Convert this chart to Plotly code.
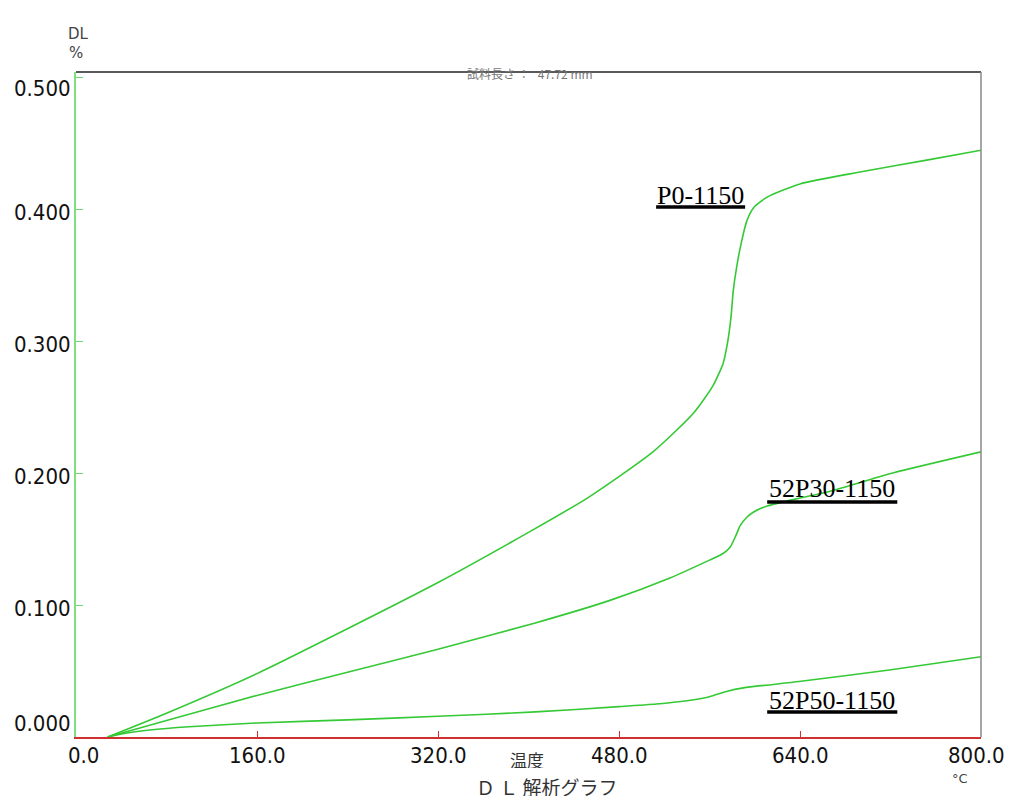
import plotly.graph_objects as go

# ---- data ----
p0_temp = [28, 80, 160, 240, 320, 400, 452, 510, 546, 563, 572, 576, 579, 581, 584, 588, 593, 599, 611, 640, 693, 752, 800]
p0_dl = [0.0, 0.018, 0.048, 0.082, 0.117, 0.155, 0.181, 0.216, 0.2455, 0.266, 0.283, 0.299, 0.318, 0.338, 0.356, 0.374, 0.391, 0.401, 0.409, 0.419, 0.428, 0.437, 0.4445]

p30_temp = [28, 80, 160, 240, 320, 406, 472, 525, 560, 572, 578, 583, 587, 593, 599, 611, 640, 664, 722, 800]
p30_dl = [0.0, 0.0125, 0.0315, 0.049, 0.0665, 0.0864, 0.1035, 0.1205, 0.134, 0.139, 0.1435, 0.152, 0.160, 0.1665, 0.1705, 0.175, 0.181, 0.1856, 0.200, 0.216]

p50_temp = [28, 45, 65, 100, 160, 240, 320, 406, 480, 513, 540, 560, 575, 590, 639, 719, 800]
p50_dl = [0.0, 0.003, 0.0053, 0.0078, 0.0106, 0.013, 0.0157, 0.019, 0.023, 0.025, 0.0275, 0.0305, 0.0345, 0.0372, 0.042, 0.0508, 0.0608]

series_names = ["P0-1150", "52P30-1150", "52P50-1150"]

x_tick_vals = [0, 160, 320, 480, 640, 800]
x_tick_text = ["0.0", "160.0", "320.0", "480.0", "640.0", "800.0"]
y_tick_vals = [0.0, 0.1, 0.2, 0.3, 0.4, 0.5]
y_tick_text = ["0.000", "0.100", "0.200", "0.300", "0.400", "0.500"]

title_text = "試料長さ ：   47.72 mm"
x_title = "温度"
x_unit = "°C"
y_title = "DL"
y_unit = "%"
caption = "Ｄ Ｌ 解析グラフ"

# ---- figure ----
LINE = "#35c935"
fig = go.Figure()
for name, t, d in [(series_names[0], p0_temp, p0_dl),
                   (series_names[1], p30_temp, p30_dl),
                   (series_names[2], p50_temp, p50_dl)]:
    fig.add_trace(go.Scatter(x=t, y=d, mode="lines", name=name,
                             line=dict(color=LINE, width=1.6), showlegend=False,
                             line_shape="spline", line_smoothing=0.6))

# the page body has an 8px margin, so the figure sits at (8, 8) on the page
OFF = 8
W, H = 1013 - OFF, 802 - OFF
L, T = 76 - OFF, 72 - OFF
PW, PH = 905, 665
R = W - L - PW
B = H - T - PH

YMAX = 665 / 1320.0
TICKFONT = dict(family="DejaVu Sans Condensed, DejaVu Sans Mono, DejaVu Sans", size=22, color="#111")

annotations = []
# x tick labels
for i, (v, s) in enumerate(zip(x_tick_vals, x_tick_text)):
    shift = 0
    if i == 0:
        shift = 7
    elif i == len(x_tick_vals) - 1:
        shift = -5
    annotations.append(dict(x=v, y=0, xref="x", yref="y", text=s, showarrow=False,
                            xanchor="center", yanchor="top", yshift=-5, xshift=shift,
                            height=22, font=TICKFONT))
# y tick labels
for i, (v, s) in enumerate(zip(y_tick_vals, y_tick_text)):
    ys = -3
    if i == 0:
        ys = 14
    elif i == len(y_tick_vals) - 1:
        ys = -11
    annotations.append(dict(x=0, y=v, xref="paper", yref="y", text=s, showarrow=False,
                            xanchor="right", yanchor="middle", xshift=-3, yshift=ys,
                            font=TICKFONT))

SMALL = dict(family="DejaVu Sans", size=15, color="#444")
page_texts = [
    dict(x=66, y=23, text=y_title, font=SMALL),
    dict(x=67, y=42, text=y_unit, font=SMALL),
    dict(x=970, y=787, text=x_unit, height=14,
         font=dict(family="DejaVu Sans", size=13, color="#444")),
    dict(x=530, y=63, text=title_text,
         font=dict(family="Noto Sans CJK JP", size=12, color="#777")),
    dict(x=527, y=770, text=x_title, height=17,
         font=dict(family="Noto Sans CJK JP", size=17, color="#333")),
    dict(x=547, y=798, text=caption, height=19,
         font=dict(family="Noto Sans CJK JP", size=19, color="#333")),
]
for a in page_texts:
    a["x"] = (a["x"] - OFF - L) / PW
    a["y"] = 1 - (a["y"] - OFF - T) / PH
    a.update(xref="paper", yref="paper", showarrow=False)
    annotations.append(a)

# series labels (underlined)
LABFONT = dict(family="Liberation Serif, Times New Roman, serif", size=26, color="#000")
label_pos = [(551.7, 0.4106, 512.8, 591.5, 0.4015),
             (668.4, 0.1879, 611.0, 726.0, 0.1780),
             (668.4, 0.0273, 611.0, 726.0, 0.0189)]
shapes = []
for name, (lx, ly, ux0, ux1, uy) in zip(series_names, label_pos):
    annotations.append(dict(x=lx, y=ly, xref="x", yref="y", text=name, showarrow=False,
                            xanchor="center", yanchor="middle", font=LABFONT))
    shapes.append(dict(type="line", xref="x", yref="y", x0=ux0, x1=ux1, y0=uy, y1=uy,
                       line=dict(color="#000", width=3.5)))

# frame: top black, right gray
shapes.append(dict(type="line", xref="paper", yref="paper", x0=0, x1=1, y0=1, y1=1,
                   line=dict(color="#222", width=1.5)))
shapes.append(dict(type="line", xref="paper", yref="paper", x0=1, x1=1, y0=0, y1=1,
                   line=dict(color="#888", width=1.5)))

fig.update_layout(
    width=W, height=H,
    margin=dict(l=L, r=R, t=T, b=B, pad=0),
    paper_bgcolor="white", plot_bgcolor="white",
    annotations=annotations, shapes=shapes,
    xaxis=dict(range=[0, 800], tickvals=x_tick_vals, showticklabels=False,
               ticks="inside", ticklen=6, tickcolor="#d03030", tickwidth=1,
               showline=True, linecolor="#d03030", linewidth=2,
               showgrid=False, zeroline=False),
    yaxis=dict(range=[0, YMAX], tickvals=y_tick_vals, showticklabels=False,
               ticks="inside", ticklen=7, tickcolor="#70d870", tickwidth=1,
               showline=True, linecolor="#80e080", linewidth=1.5,
               showgrid=False, zeroline=False),
)

fig.write_html("out.html")
